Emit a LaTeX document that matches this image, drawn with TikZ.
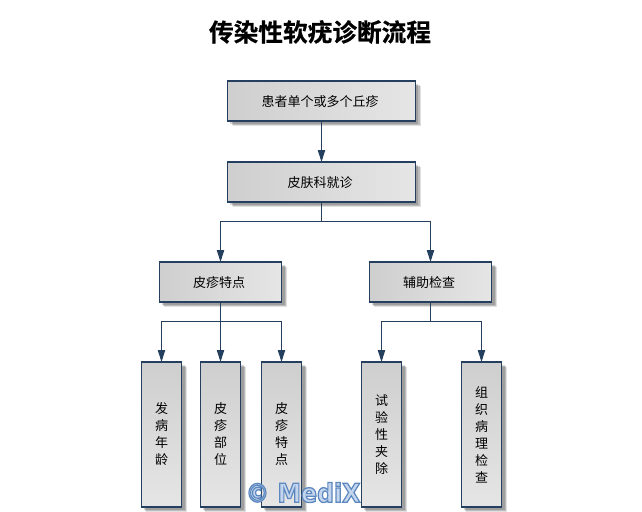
\documentclass[tikz,border=0pt]{standalone}
\usepackage{fontspec}
\setmainfont{Noto Sans CJK SC}
\newfontfamily\titlefont[FakeBold=.6]{Noto Sans CJK SC Bold}
\newfontfamily\markfont[FakeBold=5]{DejaVu Sans Bold}
\usetikzlibrary{arrows.meta,shadows}
\definecolor{edgeblue}{HTML}{24405E}
\definecolor{markfill}{HTML}{C4D6EE}
\tikzset{
  softshadow/.style={
    drop shadow={shadow xshift=2.2pt,shadow yshift=-2.2pt,fill=black,opacity=.16},
    drop shadow={shadow xshift=3pt,shadow yshift=-3pt,fill=black,opacity=.16},
    drop shadow={shadow xshift=3.8pt,shadow yshift=-3.8pt,fill=black,opacity=.12}},
  widebox/.style={draw=edgeblue,line width=.8pt,rectangle,softshadow,inner sep=0pt,outer sep=0pt,
    minimum height=30pt,left color=black!19,right color=black!10,font=\fontsize{9.75}{12.75}\selectfont,
    text height=10.1pt,text depth=1.2pt,execute at end node=\hspace{2pt}},
  tallbox/.style={draw=edgeblue,line width=.8pt,rectangle,softshadow,inner sep=0pt,outer sep=0pt,
    minimum width=30.5pt,minimum height=108.75pt,top color=black!19,bottom color=black!10,
    align=center,font=\fontsize{9.75}{12.75}\selectfont},
  flow/.style={draw=edgeblue,line width=.8pt,-{Triangle[length=9pt,width=5.5pt]}}
}
\begin{document}
\begin{tikzpicture}[x=.75pt,y=-.75pt]
\useasboundingbox (0,0) rectangle (642,511);
\node (title) at (320,32) {\titlefont\fontsize{18.5}{20}\selectfont 传染性软疣诊断流程};
% upper boxes
\node[widebox,minimum width=141pt] (patient) at (321.5,101) {患者单个或多个丘疹};
\node[widebox,minimum width=141pt] (clinic) at (321.5,182) {皮肤科就诊};
\node[widebox,minimum width=92pt] (signs) at (220.5,282) {皮疹特点};
\node[widebox,minimum width=92pt] (tests) at (430.5,282) {辅助检查};
% lower boxes
\foreach \name/\x/\txt in {age/161.5/发\\病\\年\\龄,site/220.5/皮\\疹\\部\\位,spots/281.5/皮\\疹\\特\\点,
    trial/381.5/试\\验\\性\\夹\\除,biopsy/481.5/组\\织\\病\\理\\检\\查}
  \node[tallbox] (\name) at (\x,434.5) {\txt};
% connectors
\draw[flow] (patient.south) -- (clinic.north);
\foreach \a/\b in {clinic/signs,clinic/tests}
  \draw[flow] (\a.south) -- ++(0,19.5) -| (\b.north);
\foreach \a/\b in {signs/age,signs/spots,tests/trial,tests/biopsy}
  \draw[flow] (\a.south) -- ++(0,19.5) -| (\b.north);
\draw[flow] (signs.south) -- (site.north);
% watermark
\node[inner sep=0pt,xscale=.91] (mark) at (303,492.5) {\markfont\fontsize{19.5}{20}\selectfont\color{markfill}\special{pdf:code 0.36 0.53 0.75 RG}© MediX};
\end{tikzpicture}
\end{document}
